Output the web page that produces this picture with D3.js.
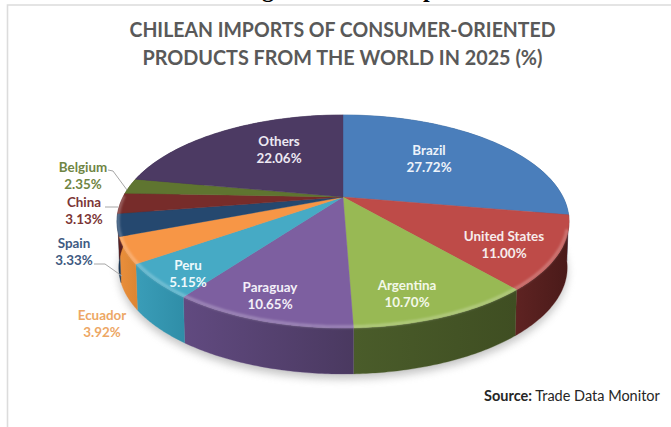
<!DOCTYPE html>
<html>
<head>
<meta charset="utf-8">
<style>
html,body{margin:0;padding:0;background:#fff;overflow:hidden}
text{font-family:Lato,"Open Sans",sans-serif}
</style>
<script src="https://cdn.jsdelivr.net/npm/d3@7"></script>
</head>
<body>
<svg id="chart" width="671" height="427"></svg>
<script>
// Shares of Chilean consumer-oriented imports, clockwise from twelve o'clock
const countries = ["Brazil","United States","Argentina","Paraguay","Peru","Ecuador","Spain","China","Belgium","Others"];
const shares = [27.72,11.00,10.70,10.65,5.15,3.92,3.33,3.13,2.35,22.06];
const titleLines = ["CHILEAN IMPORTS OF CONSUMER-ORIENTED","PRODUCTS FROM THE WORLD IN 2025 (%)"];

const topColors  = ["#4a7ebb","#be4b48","#98b954","#7d5fa0","#46aac5","#f79646","#25486f","#772c2a","#5f7530","#4c3a63"];
const sideColors = [["#2f5480","#2f5480"],["#4a1a19","#5e2322"],["#3f4e22","#4a5c2a"],["#4a3960","#614a80"],["#2f8ea8","#3a9db8"],["#dd8633","#ea8f3c"],["#1c3653","#1c3653"],["#5a1f1e","#5a1f1e"],["#46561f","#46561f"],["#3a2c4c","#3a2c4c"]];

// Label placement: centre x and first-line baseline, with outside labels in series colours
const labelPlacement = {
  "Brazil":[429,155,"#eef3fa"],"United States":[504,241,"#f7ecec"],"Argentina":[407,290,"#f3f8e8"],
  "Paraguay":[270,292,"#f3eff8"],"Peru":[188,270,"#eef9fc"],"Ecuador":[102,320,"#eda765"],
  "Spain":[74,248,"#3f5b82"],"China":[84,207,"#7c3636"],"Belgium":[83,172,"#6f8544"],"Others":[279,146,"#ece8f2"]
};
const leaders = [
  [[108,170],[113,171],[127,190]],
  [[105,207],[118,207]],
  [[94,264],[105,264],[122,276]]
];

const svg = d3.select("#chart");
const defs = svg.append("defs");

// Oblique view of the pie's top disc: a circle under a perspective projection
const cx = 343, cy = 197, spreadX = 220, spreadY = 100.9, recede = 0.23, depth = 46;
const project = (t, r = 1) => {
  const u = r * Math.sin(t), v = r * Math.cos(t), w = 1 + recede * v;
  return [cx + spreadX * u / w, cy - spreadY * v / w];
};
const lower = ([x, y]) => [cx + (x - cx) * 0.992, y + depth];
const outline = d3.line();
const sweep = (a, b) => d3.range(0, 61).map(i => project(a + (b - a) * i / 60));

const slices = d3.pie().sort(null).value(d => d)(shares);

// Page frame and the descenders of the cropped heading above it
svg.append("rect").attr("x",0).attr("y",0).attr("width",671).attr("height",427).attr("fill","#fff");
const headClip = defs.append("clipPath").attr("id","headClip");
headClip.append("rect").attr("x",0).attr("y",0).attr("width",671).attr("height",4);
const head = svg.append("g").attr("clip-path","url(#headClip)")
  .attr("font-weight","700").attr("fill","#000").style("font-size","24px");
head.append("text").attr("x",262).attr("y",-3).style("font-family","'Liberation Serif',serif").text("g");
head.append("text").attr("x",423).attr("y",-3).style("font-family","'Liberation Serif',serif").text("p");
svg.append("path").attr("d","M7.5,427V5H671").attr("fill","none").attr("stroke","#dcdcdc").attr("stroke-width",1.6);

// Title
svg.append("g").selectAll("text").data(titleLines).join("text")
  .attr("x",342.5).attr("y",(d,i)=>37+i*28).attr("text-anchor","middle")
  .attr("textLength",(d,i)=>i?400:426).attr("lengthAdjust","spacingAndGlyphs")
  .attr("font-weight","700").attr("fill","#595959").style("font-size","21px").text(d=>d);

// Soft cast shadow under the drum
defs.append("filter").attr("id","shadow").attr("x","-20%").attr("y","-20%").attr("width","140%").attr("height","140%")
  .append("feGaussianBlur").attr("stdDeviation",4.5);
defs.append("filter").attr("id","bevelBlur").attr("x","-20%").attr("y","-20%").attr("width","140%").attr("height","140%")
  .append("feGaussianBlur").attr("stdDeviation",1.3);
svg.append("path")
  .attr("d",outline(sweep(0,2*Math.PI).map(lower).map(([x,y])=>[x,y+5]))+"Z")
  .attr("fill","#888").attr("opacity",0.5).attr("filter","url(#shadow)");

// Drum wall, one shaded band per slice
slices.forEach((s,i)=>{
  const g = defs.append("linearGradient").attr("id","wall"+i).attr("gradientUnits","userSpaceOnUse");
  const a = project(s.startAngle), b = project(s.endAngle);
  g.attr("x1",a[0]).attr("y1",0).attr("x2",b[0]).attr("y2",0);
  g.append("stop").attr("offset",0).attr("stop-color",sideColors[i][0]);
  g.append("stop").attr("offset",1).attr("stop-color",sideColors[i][1]);
});
svg.append("g").selectAll("path").data(slices).join("path")
  .attr("d",s=>{
    const rim = sweep(s.startAngle,s.endAngle);
    return outline(rim.concat(rim.map(lower).reverse()))+"Z";
  })
  .attr("fill",(s,i)=>`url(#wall${i})`)
  .attr("stroke",(s,i)=>sideColors[i][1]).attr("stroke-width",0.3);

// Top face wedges
svg.append("g").selectAll("path").data(slices).join("path")
  .attr("d",s=>outline([[cx,cy]].concat(sweep(s.startAngle,s.endAngle)))+"Z")
  .attr("fill",(s,i)=>topColors[i])
  .attr("stroke",(s,i)=>topColors[i]).attr("stroke-width",0.4);

// Rounded highlight along the front rim of the disc
svg.append("path")
  .attr("d",outline(sweep(Math.PI*0.6,Math.PI*1.5).map(([x,y])=>[cx+(x-cx)*0.995,y-1.2])))
  .attr("fill","none").attr("stroke","#fff").attr("stroke-opacity",0.25).attr("stroke-width",3)
  .attr("filter","url(#bevelBlur)");

// Leader lines for the small outside labels
svg.append("g").selectAll("path").data(leaders).join("path")
  .attr("d",d=>outline(d)).attr("fill","none").attr("stroke","#a6a6a6").attr("stroke-width",1);

// Name and percentage labels
const labels = svg.append("g").selectAll("g").data(countries).join("g")
  .attr("transform",d=>`translate(${labelPlacement[d][0]},${labelPlacement[d][1]})`)
  .attr("text-anchor","middle").attr("font-weight","700")
  .attr("fill",d=>labelPlacement[d][2]).style("font-size","13.4px");
labels.append("text").text(d=>d);
labels.append("text").attr("y",17.3).text((d,i)=>d3.format(".2f")(shares[i])+"%");

// Source note
const source = svg.append("text").attr("x",484).attr("y",401).attr("fill","#262626").style("font-size","14.5px");
source.append("tspan").attr("font-weight","700").text("Source:");
source.append("tspan").text(" Trade Data Monitor");
</script>
</body>
</html>
